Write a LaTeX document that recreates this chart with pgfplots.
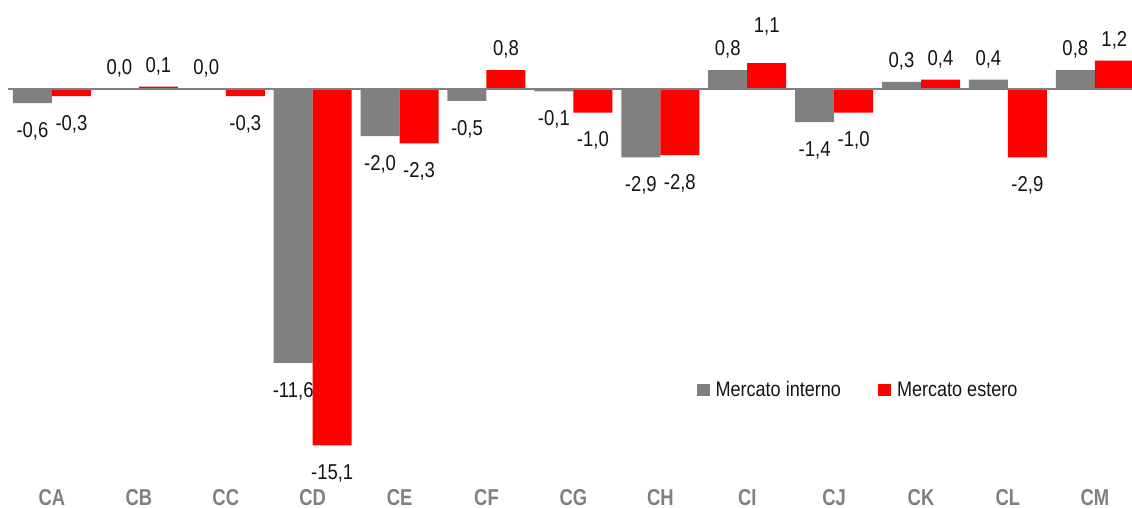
\documentclass[border=0pt]{standalone}
\usepackage{fontspec}
\setmainfont{Liberation Sans}[FakeStretch=0.86]
\newfontfamily\catfont{Liberation Sans}[FakeStretch=0.8]
\usepackage{pgfplots}
\usepackage{pgfplotstable}
\pgfplotsset{compat=1.18}
\definecolor{bargray}{RGB}{128,128,128}
\definecolor{barred}{RGB}{255,0,0}
\definecolor{labtxt}{RGB}{20,20,20}

\pgfplotstableread{
x int est ioff eoff
0 -0.6 -0.3 0 0
1 0.0 0.1 0 0
2 0.0 -0.3 0 0
3 -11.6 -15.1 0 0
4 -2.0 -2.3 0 0
5 -0.5 0.8 0 0
6 -0.1 -1.0 0 0
7 -2.9 -2.8 0 0
8 0.8 1.1 0 16
9 -1.4 -1.0 0 0
10 0.3 0.4 0 0
11 0.4 -2.9 0 0
12 0.8 1.2 0 0
}\datatable

\begin{document}
\begin{tikzpicture}
\begin{axis}[
  scale only axis, width=1132pt, height=474pt,
  xmin=-0.598, xmax=12.428, ymin=-16.31, ymax=3.771,
  ybar=0pt, bar width=39pt,
  axis line style={draw=none},
  ytick=\empty,
  xtick={0,...,12},
  xticklabels={CA,CB,CC,CD,CE,CF,CG,CH,CI,CJ,CK,CL,CM},
  xtick style={draw=none},
  xticklabel style={font=\catfont\bfseries\fontsize{23}{26}\selectfont, text=bargray, inner sep=0pt, anchor=north, yshift=-11pt},
  nodes near coords,
  /pgf/number format/.cd, use comma, fixed, fixed zerofill, precision=1, assume math mode=true, /pgfplots/.cd,
  every node near coord/.append style={font=\fontsize{21.5}{25}\selectfont, text=labtxt, inner sep=0pt, text height=34pt, text depth=14pt},
  legend style={at={(axis cs:7.38,-12.75)}, anchor=west, draw=none, fill=none, font=\fontsize{21}{25}\selectfont, text=labtxt, /tikz/every even column/.append style={column sep=35pt}, /tikz/every odd column/.append style={column sep=4pt}},
  legend columns=2,
  legend cell align=left,
  legend image code/.code={\draw[#1,draw=none] (0pt,-6pt) rectangle (13pt,6pt);},
]
\addplot[fill=bargray, draw=none, visualization depends on={\thisrow{ioff}\as\myoff}, every node near coord/.append style={yshift=\myoff pt}] table[x=x,y=int] {\datatable};
\addplot[fill=barred, draw=none, visualization depends on={\thisrow{eoff}\as\myoff}, every node near coord/.append style={yshift=\myoff pt}] table[x=x,y=est] {\datatable};
\legend{Mercato interno, Mercato estero}
\draw[bargray, line width=2pt] (axis cs:-0.506,0) -- (axis cs:12.428,0);
\coordinate (bl) at (rel axis cs:0,0);
\coordinate (tr) at (rel axis cs:1,1);
\end{axis}
\pgfresetboundingbox
\useasboundingbox ([yshift=-33pt]bl) rectangle (tr);
\end{tikzpicture}
\end{document}
